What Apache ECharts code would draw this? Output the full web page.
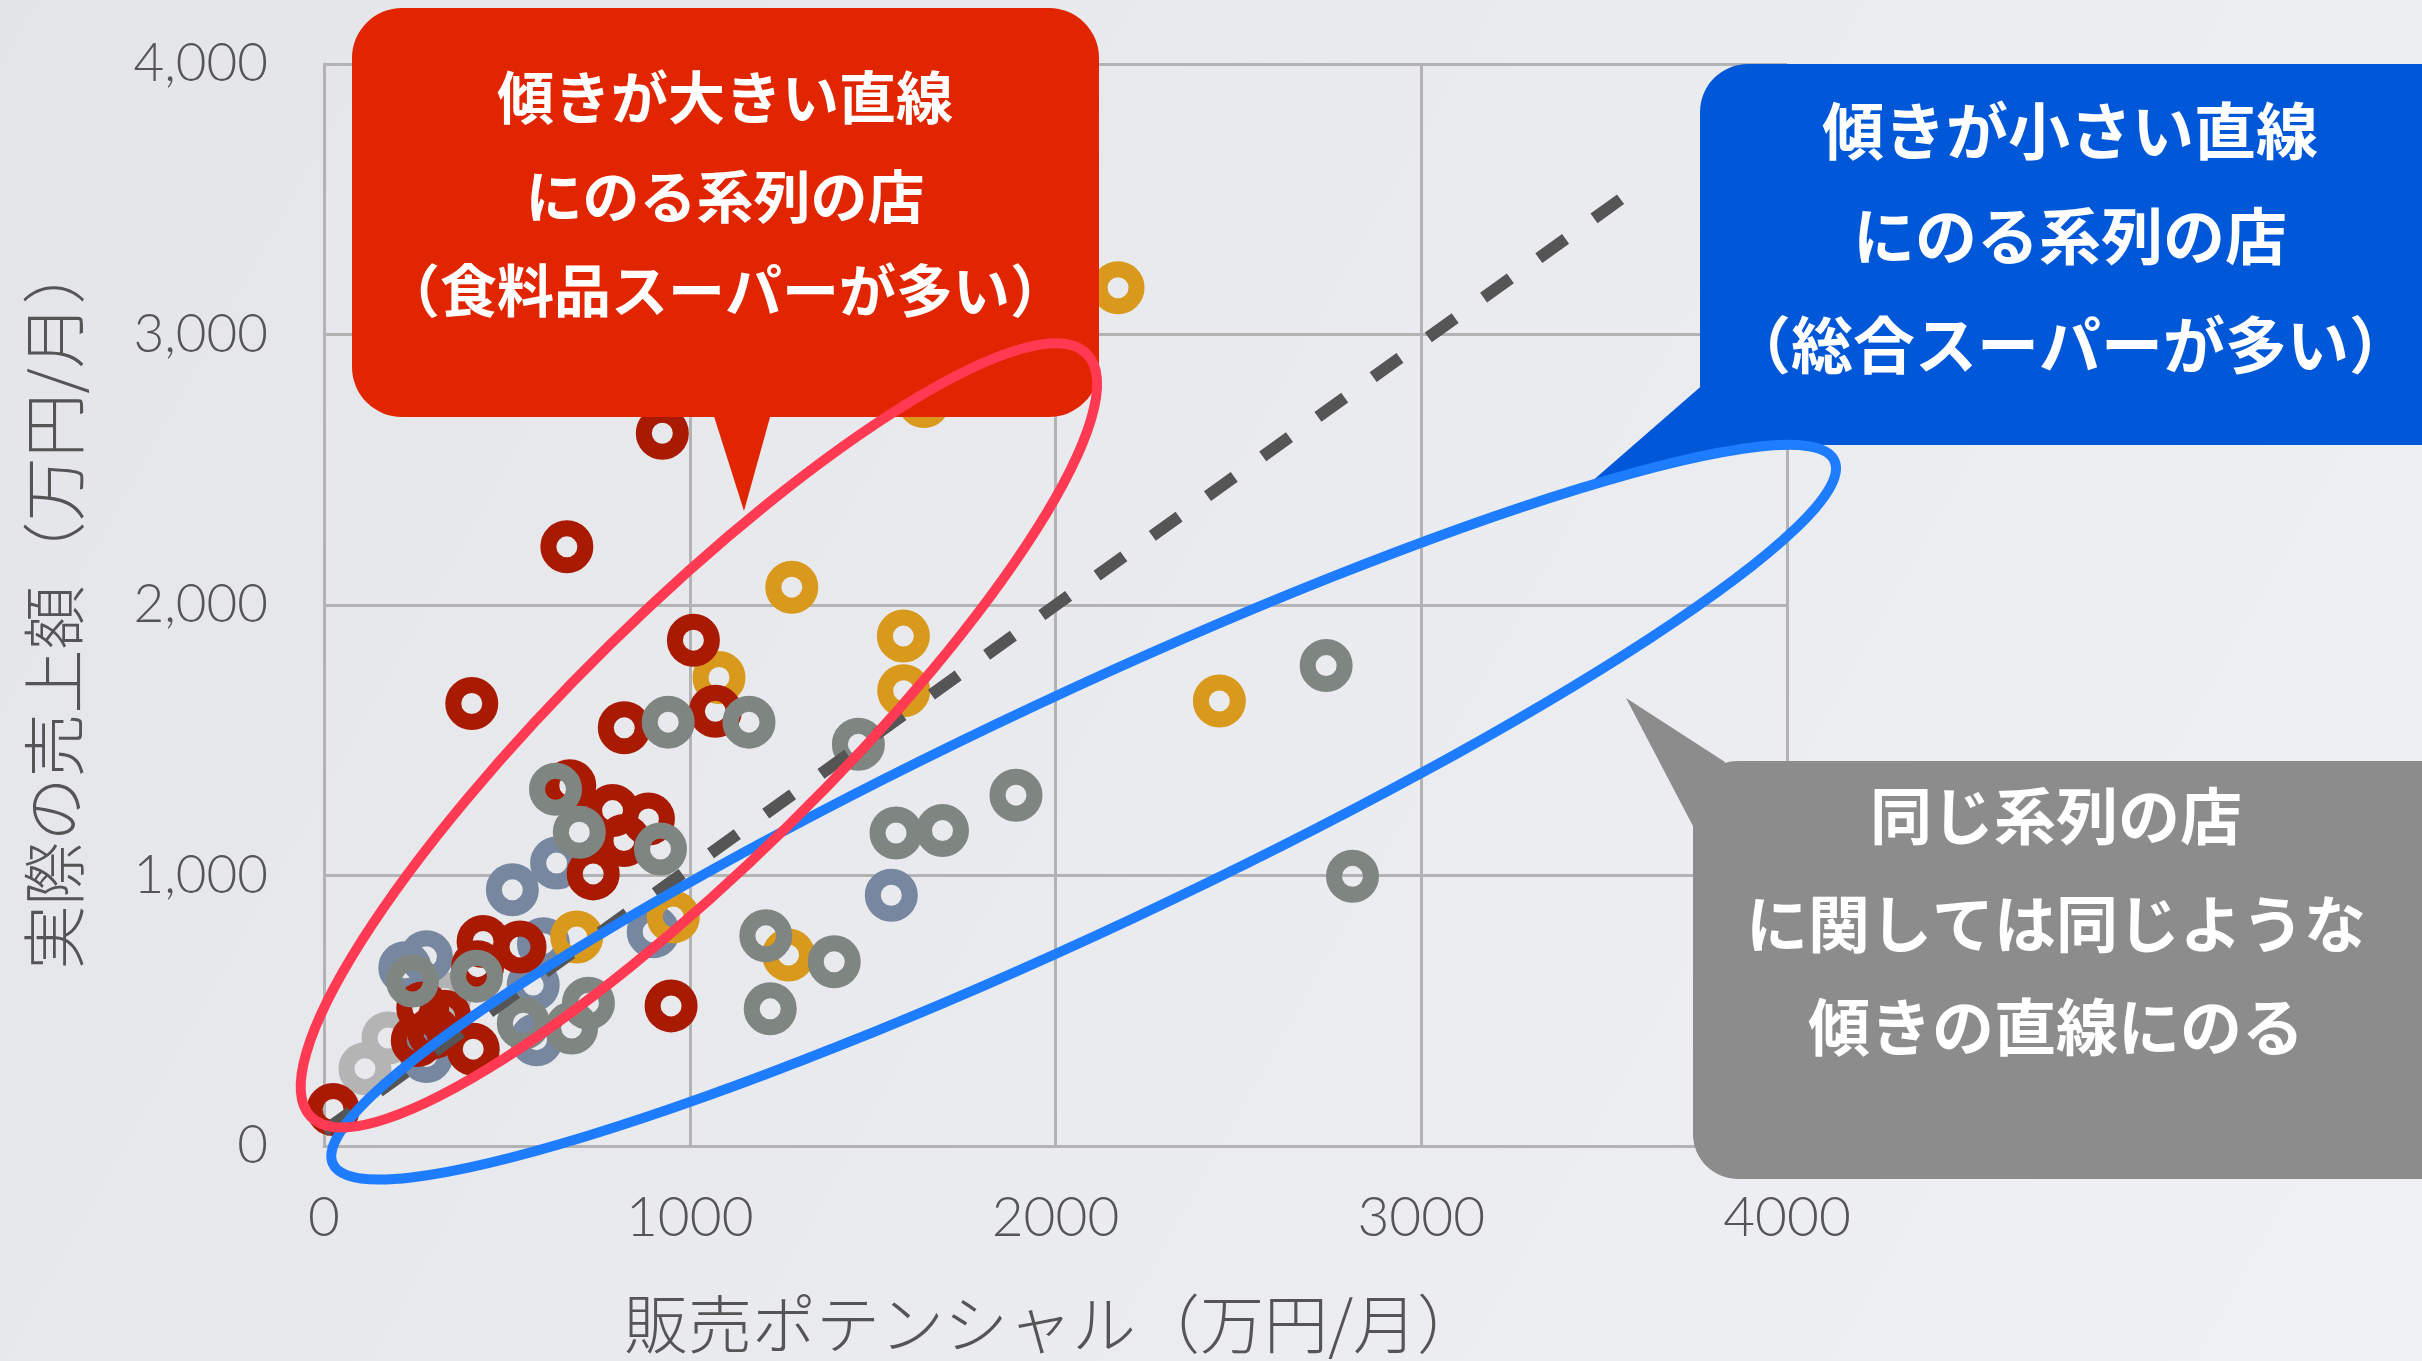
<!DOCTYPE html>
<html><head><meta charset="utf-8">
<script src="https://cdn.jsdelivr.net/npm/echarts@6/dist/echarts.min.js"></script>
<style>html,body{margin:0;padding:0;width:2422px;height:1361px;overflow:hidden;background:#eceef1}#c{width:2422px;height:1361px}</style>
</head><body><div id="c"></div>
<script>
// ---- data (万円/月) ----
const xTicks = [0, 1000, 2000, 3000, 4000];
const yTicks = [0, 1000, 2000, 3000, 4000];
const xName = '販売ポテンシャル（万円/月）';
const yName = '実際の売上額（万円/月）';

const lightGrayStores = [[112,286],[175,399],[330,545]];
const slateStores = [[636,1046],[515,947],[600,748],[900,792],[280,700],[221,659],[572,595],[280,331],[581,393],[1551,927]];
const orangeStores = [[1080,1732],[691,773],[955,847],[1270,706],[1584,1885],[1585,1683],[2448,1645],[1279,2066],[2171,3173],[1640,2752]];
const redStores = [[404,1636],[1010,1870],[1070,1607],[821,1546],[672,1332],[789,1240],[887,1209],[820,1129],[736,1006],[435,756],[536,736],[420,663],[949,518],[408,358],[25,135],[925,2635],[664,2215],[270,510],[330,480],[255,390],[300,420]];
const grayStores = [[941,1567],[1162,1567],[1461,1485],[633,1319],[698,1160],[920,1098],[1208,777],[1395,681],[1220,507],[242,610],[417,628],[545,454],[677,436],[723,528],[1892,1297],[1564,1157],[1691,1166],[2740,1776],[2812,997]];

const refLine = [[0,55],[3545,3500]];

// annotation ellipses: centre in data units, semi-axes in px, tilt in degrees
const redEllipse = {center:[1025,1518], rx:544, ry:127, tilt:44.5};
const blueEllipse = {center:[2077,1234], rx:829, ry:117, tilt:25.1};

const calloutRed = ['傾きが大きい直線','にのる系列の店','（食料品スーパーが多い）'];
const calloutBlue = ['傾きが小さい直線','にのる系列の店','（総合スーパーが多い）'];
const calloutGray = ['同じ系列の店','に関しては同じような','傾きの直線にのる'];

// ---- chart ----
const chart = echarts.init(document.getElementById('c'), null, {renderer:'canvas'});
const LAT = 'Lato, "Open Sans", "Noto Sans", sans-serif';
const JP = '"Noto Sans CJK JP", "Noto Sans", sans-serif';

function ring(name, data, color){
  return {
    name, type:'scatter', data, symbol:'circle', symbolSize:37,
    itemStyle:{color:'rgba(0,0,0,0)', borderColor:color, borderWidth:16, opacity:1},
    emphasis:{disabled:true}, silent:true, z:3
  };
}

const option = {
  animation:false,
  backgroundColor:{type:'linear', x:0, y:0, x2:1, y2:1, colorStops:[{offset:0,color:'#e3e5e9'},{offset:1,color:'#f0f1f4'}]},
  grid:{left:324, top:64, width:1463, height:1086, containLabel:false},
  xAxis:{
    type:'value', min:xTicks[0], max:xTicks[xTicks.length-1], interval:1000,
    name:xName, nameLocation:'middle', nameGap:146,
    nameTextStyle:{fontFamily:JP, fontSize:64, fontWeight:300, color:'#555', padding:[0,6,0,0]},
    axisLine:{show:true, lineStyle:{color:'#b3b3b3', width:3}},
    axisTick:{show:false},
    axisLabel:{fontFamily:LAT, fontSize:55, fontWeight:300, color:'#555', margin:45,
      formatter:v => String(v)},
    splitLine:{show:true, lineStyle:{color:'#b3b3b3', width:3}}
  },
  yAxis:{
    type:'value', min:yTicks[0], max:yTicks[yTicks.length-1], interval:1000,
    name:yName, nameLocation:'middle', nameGap:238,
    nameTextStyle:{fontFamily:JP, fontSize:64, fontWeight:300, color:'#555'},
    axisLine:{show:true, lineStyle:{color:'#b3b3b3', width:3}},
    axisTick:{show:false},
    axisLabel:{fontFamily:LAT, fontSize:53, fontWeight:300, color:'#555', margin:56,
      formatter:v => v.toLocaleString('en-US')},
    splitLine:{show:true, lineStyle:{color:'#b3b3b3', width:3}}
  },
  series:[
    ring('lightgray', lightGrayStores, '#b4b4b4'),
    ring('slate', slateStores, '#7887a0'),
    ring('orange', orangeStores, '#d9991c'),
    ring('red', redStores, '#a91a03'),
    ring('gray', grayStores, '#7f8682'),
    {type:'line', data:refLine, symbol:'none', silent:true, z:4,
     lineStyle:{color:'#555', width:12, type:[33,35], cap:'butt'}}
  ]
};
chart.setOption(option);

function ellipseEl(e, color){
  const p = chart.convertToPixel({gridIndex:0}, e.center);
  return {type:'ellipse', x:p[0], y:p[1], rotation:e.tilt*Math.PI/180, z:50,
    shape:{cx:0, cy:0, rx:e.rx, ry:e.ry},
    style:{fill:null, stroke:color, lineWidth:10}};
}
function lines(arr, cx, ys, size){
  return arr.map((t,i)=>({type:'text', z:60, x:cx, y:ys[i],
    style:{text:t, fill:'#fff', font:'bold '+size+'px '+JP, textAlign:'center', textVerticalAlign:'middle'}}));
}

const graphics = [
  // red callout
  {type:'rect', z:40, shape:{x:352, y:8, width:747, height:409, r:50}, style:{fill:'#e02500'}},
  {type:'polygon', z:40, shape:{points:[[712,410],[772,410],[744,511]]}, style:{fill:'#e02500'}},
  ...lines(calloutRed, 725, [97,196,290], 57),
  // blue callout
  {type:'rect', z:40, shape:{x:1700, y:64, width:780, height:381, r:48}, style:{fill:'#0058d8'}},
  {type:'polygon', z:40, shape:{points:[[1590,483],[1706,382],[1740,445]]}, style:{fill:'#0058d8'}},
  ...lines(calloutBlue, 2070, [131,236,345], 62),
  // gray callout
  {type:'rect', z:40, shape:{x:1693, y:761, width:780, height:418, r:45}, style:{fill:'#8c8c8c'}},
  {type:'polygon', z:40, shape:{points:[[1626,698],[1725,762],[1694,828]]}, style:{fill:'#8c8c8c'}},
  ...lines(calloutGray, 2056, [816,924,1027], 62),
  // ellipses
  ellipseEl(blueEllipse, '#1e7cff'),
  ellipseEl(redEllipse, '#ff3a52')
];
chart.setOption({graphic:graphics});
</script>
</body></html>
